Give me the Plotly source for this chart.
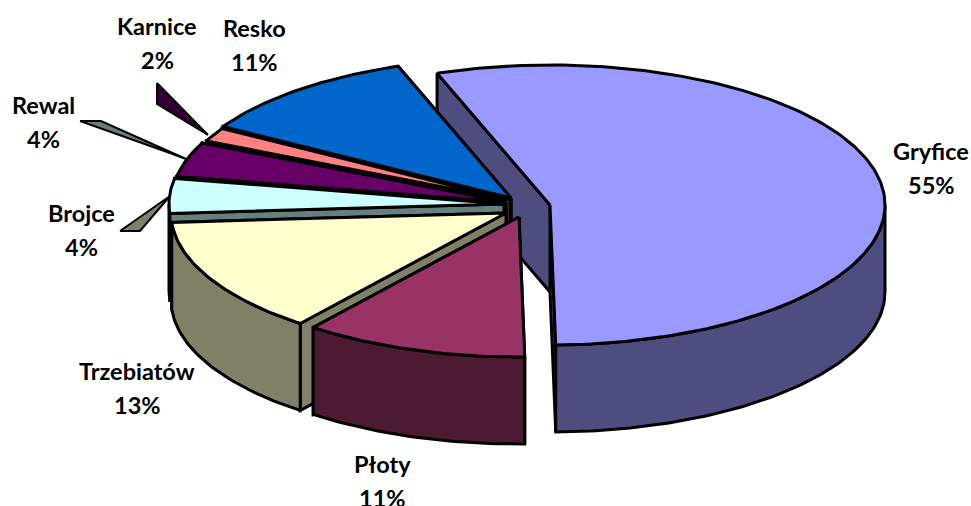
import math
import plotly.graph_objects as go

categories = ["Gryfice", "Płoty", "Trzebiatów", "Brojce", "Rewal", "Karnice", "Resko"]
shares = [55.2, 10.8, 13.4, 4.0, 4.0, 1.6, 11.0]
top_colors = ["#9999FF", "#993366", "#FFFFCC", "#CCFFFF", "#660066", "#FF8080", "#0066CC"]
wall_colors = ["#4D4D80", "#4D1A33", "#808066", "#668080", "#330033", "#804040", "#003366"]

# layout of the pseudo-3D pie (pixel space of the hidden axes)
slice_centers = {
    "Gryfice": (550, 205), "Płoty": (519, 217), "Trzebiatów": (506, 213),
    "Brojce": (504, 204), "Rewal": (506, 202), "Karnice": (510, 200), "Resko": (511, 198),
}
RX, RY, DEPTH = 335, 140, 87
START_ANGLE = -19.7
LINE = 3

label_pos = {
    "Gryfice": (931, 151), "Płoty": (382, 464), "Trzebiatów": (137, 371),
    "Brojce": (81, 213), "Rewal": (43, 105), "Karnice": (157, 26), "Resko": (254, 28),
}
LABEL_GAP = 34

leaders = [
    ([157, 157, 208, 157], [83, 104, 135, 83], "#330033"),
    ([80, 101, 186, 170, 80], [121, 121, 159, 153, 121], "#668080"),
    ([120, 140, 170, 120], [231, 231, 196, 231], "#808066"),
]


def pt(c, t, dz=0):
    r = math.radians(t)
    return c[0] + RX * math.sin(r), c[1] - RY * math.cos(r) + dz


def arc(c, a, b, dz=0):
    n = max(2, int(abs(b - a)) + 1)
    return [pt(c, a + (b - a) * i / n, dz) for i in range(n + 1)]


fig = go.Figure()


def poly(points, color, name):
    xs = [p[0] for p in points] + [points[0][0]]
    ys = [p[1] for p in points] + [points[0][1]]
    fig.add_trace(go.Scatter(
        x=xs, y=ys, mode="lines", fill="toself", fillcolor=color, name=name,
        line=dict(color="black", width=LINE, shape="linear"),
        hoverinfo="name", showlegend=False,
    ))


for lx, ly, col in leaders:
    fig.add_trace(go.Scatter(x=lx, y=ly, mode="lines", fill="toself", fillcolor=col,
                             line=dict(color="black", width=2), hoverinfo="skip",
                             showlegend=False))

# angular span of each slice from its share
spans = {}
a = START_ANGLE
for name, s in zip(categories, shares):
    spans[name] = (a, a + s * 3.6)
    a += s * 3.6

draw_order = ["Gryfice", "Resko", "Karnice", "Rewal", "Brojce", "Trzebiatów", "Płoty"]
for name in draw_order:
    i = categories.index(name)
    c = slice_centers[name]
    a0, a1 = spans[name]
    apex_low = (c[0], c[1] + DEPTH)
    # cut faces: far one first, near one over it
    poly([c, pt(c, a1), pt(c, a1, DEPTH), apex_low], wall_colors[i], name)
    poly([c, pt(c, a0), pt(c, a0, DEPTH), apex_low], wall_colors[i], name)
    # outer wall: only the front-facing part of the rim (90..270 deg)
    w0, w1 = max(a0, 90), min(a1, 270)
    if w1 > w0:
        poly(arc(c, w0, w1) + arc(c, w1, w0, DEPTH), wall_colors[i], name)
    # top face
    poly([c] + arc(c, a0, a1), top_colors[i], name)

annotations = []
for name, s in zip(categories, shares):
    x, y = label_pos[name]
    for txt, yy in ((name, y), (f"{round(s)}%", y + LABEL_GAP)):
        annotations.append(dict(
            x=x, y=yy, xref="x", yref="y", text=f"<b>{txt}</b>", showarrow=False,
            xanchor="center", yanchor="middle",
            font=dict(family="Lato", size=23.5, color="black"),
        ))

fig.update_layout(
    width=971, height=506, margin=dict(l=0, r=0, t=0, b=0),
    paper_bgcolor="white", plot_bgcolor="white",
    xaxis=dict(range=[0, 971], visible=False, fixedrange=True),
    yaxis=dict(range=[506, 0], visible=False, fixedrange=True),
    annotations=annotations, showlegend=False,
)
fig.write_html("out.html", config={"displayModeBar": False},
               post_script="document.body.style.margin='0';")
